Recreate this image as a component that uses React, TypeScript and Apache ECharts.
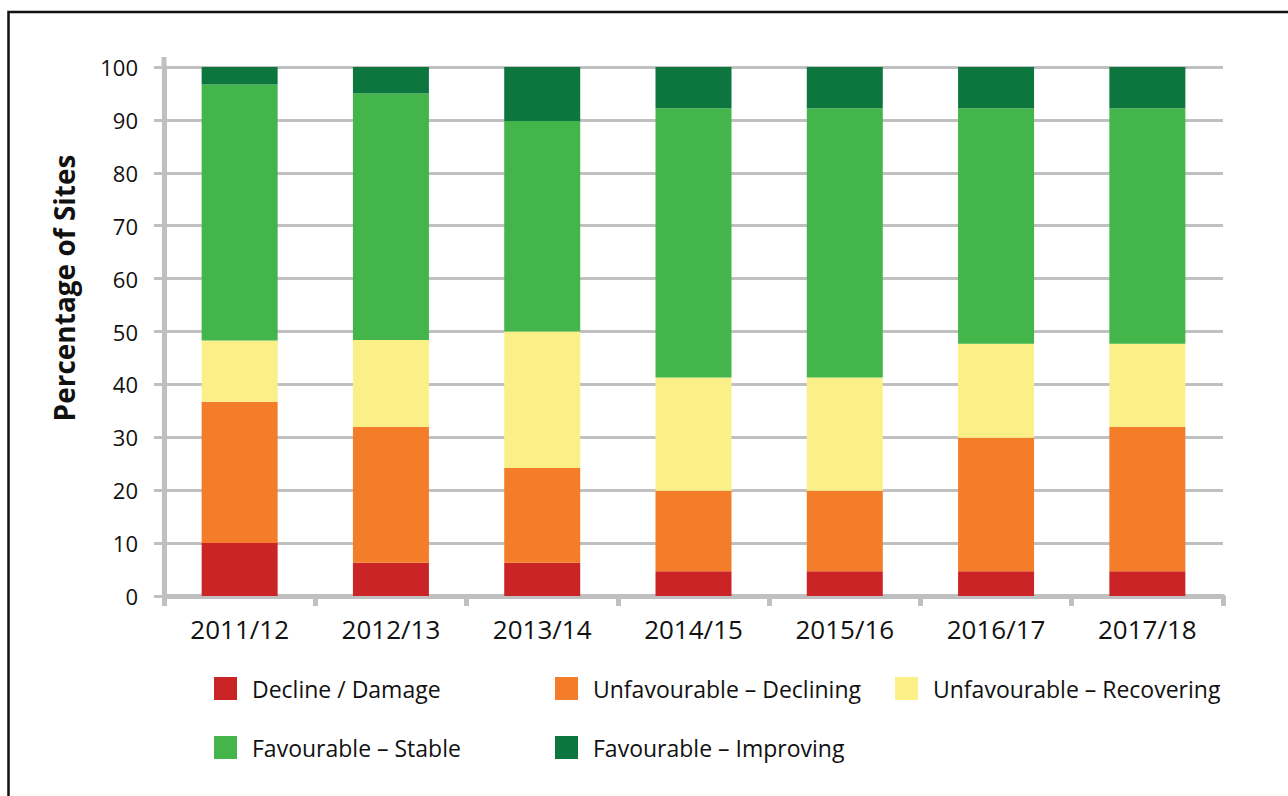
import React, { useEffect, useRef } from "react";
import * as echarts from "echarts";

const categories = ["2011/12", "2012/13", "2013/14", "2014/15", "2015/16", "2016/17", "2017/18"];
const seriesNames = [
  "Decline / Damage",
  "Unfavourable – Declining",
  "Unfavourable – Recovering",
  "Favourable – Stable",
  "Favourable – Improving",
];
const declineDamage = [10, 6.3, 6.3, 4.7, 4.7, 4.7, 4.7];
const unfavDeclining = [26.7, 25.7, 17.9, 15.2, 15.2, 25.2, 27.3];
const unfavRecovering = [11.6, 16.4, 25.8, 21.4, 21.4, 17.8, 15.7];
const favStable = [48.4, 46.6, 39.8, 50.9, 50.9, 44.5, 44.5];
const favImproving = [3.3, 5.0, 10.2, 7.8, 7.8, 7.8, 7.8];
const colors = ["#cb2427", "#f47d29", "#fbf087", "#43b54a", "#0d763e"];
const yTicks = { min: 0, max: 100, interval: 10 };
const yTitle = "Percentage of Sites";

const FONT = "Open Sans";
const GRID_C = "#c0c0c0";

export default function App() {
  const ref = useRef<HTMLDivElement>(null);
  useEffect(() => {
    if (!ref.current) return;
    const chart = echarts.init(ref.current, undefined, { renderer: "svg" });
    const values = [declineDamage, unfavDeclining, unfavRecovering, favStable, favImproving];
    const legendBase = {
      orient: "vertical",
      top: 677,
      padding: 0,
      itemWidth: 23,
      itemHeight: 23,
      itemGap: 36,
      icon: "rect",
      textStyle: {
        fontFamily: FONT,
        fontSize: 23,
        color: "#111",
        padding: [0, 0, 0, 10],
      },
    };
    chart.setOption({
      animation: false,
      backgroundColor: "#fff",
      textStyle: { fontFamily: FONT },
      grid: { left: 164, right: 65, top: 67, bottom: 200, containLabel: false },
      xAxis: {
        type: "category",
        data: categories,
        axisLine: { lineStyle: { color: GRID_C, width: 5 } },
        axisTick: { show: true, length: 10, lineStyle: { color: GRID_C, width: 5 } },
        axisLabel: { fontFamily: FONT, fontSize: 26, color: "#111", margin: 20 },
      },
      yAxis: {
        type: "value",
        min: yTicks.min,
        max: yTicks.max,
        interval: yTicks.interval,
        axisLine: { show: true, lineStyle: { color: GRID_C, width: 5 } },
        axisTick: { show: true, length: 10, lineStyle: { color: GRID_C, width: 3 } },
        splitLine: { lineStyle: { color: GRID_C, width: 3 } },
        axisLabel: { fontFamily: FONT, fontSize: 22, color: "#111", margin: 26 },
      },
      legend: [
        { ...legendBase, data: [seriesNames[0], seriesNames[3]], left: 214 },
        { ...legendBase, data: [seriesNames[1], seriesNames[4]], left: 555 },
        { ...legendBase, data: [seriesNames[2]], left: 895 },
      ],
      graphic: [
        {
          type: "rect",
          shape: { x: 8.5, y: 12, width: 1300, height: 800 },
          style: { fill: "none", stroke: "#111", lineWidth: 2.5 },
          silent: true,
        },
        {
          type: "rect",
          shape: { x: 161.5, y: 57, width: 5, height: 10 },
          style: { fill: GRID_C },
          silent: true,
        },
        {
          type: "text",
          x: 64,
          y: 288,
          rotation: Math.PI / 2,
          style: {
            text: yTitle,
            fontFamily: FONT,
            fontSize: 28,
            fontWeight: "bold",
            fill: "#111",
            align: "center",
            verticalAlign: "middle",
          },
        },
      ],
      series: seriesNames.map((name, i) => ({
        name,
        type: "bar",
        stack: "total",
        barWidth: 76,
        data: values[i],
        itemStyle: { color: colors[i] },
      })),
    });
    return () => chart.dispose();
  }, []);
  return (
    <div
      ref={ref}
      style={{ position: "absolute", left: 0, top: 0, width: 1288, height: 796 }}
    />
  );
}
